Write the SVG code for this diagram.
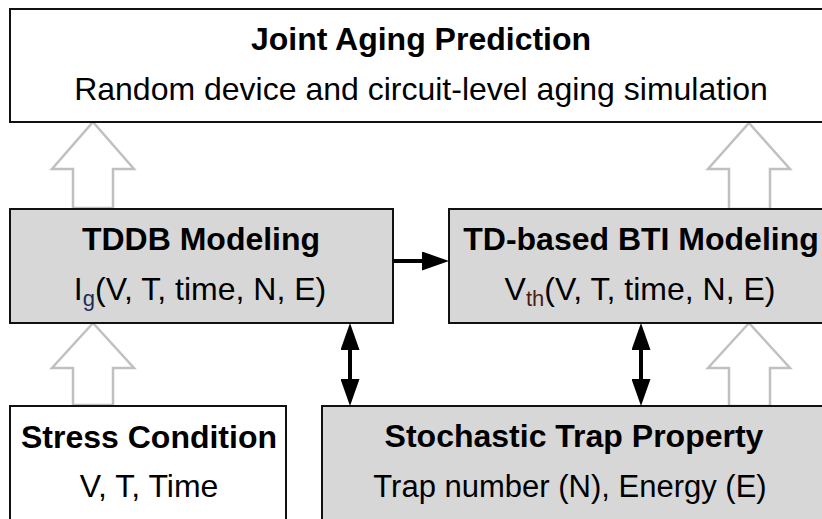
<svg xmlns="http://www.w3.org/2000/svg" width="822" height="519" viewBox="0 0 822 519">
  <style>
    .box { stroke: #111; stroke-width: 2; }
    .plain { fill: #ffffff; }
    .shade { fill: #d7d7d7; }
    .hollow { fill: #ffffff; stroke: #c0c0c0; stroke-width: 2.5; stroke-linejoin: miter; }
    .link { stroke: #000; stroke-width: 4; fill: none; }
    text { font-family: "Liberation Sans", Arial, sans-serif; fill: #000; text-anchor: middle; }
    .head { font-weight: bold; }
  </style>
  <defs>
    <marker id="tip" viewBox="0 0 27 19" refX="7" refY="9.5" markerWidth="27" markerHeight="19" markerUnits="userSpaceOnUse" orient="auto-start-reverse">
      <path d="M0,0 L27,9.5 L0,19 Z" fill="#000"/>
    </marker>
  </defs>

  <rect width="822" height="519" fill="#ffffff"/>

  <!-- hollow flow arrows -->
  <g id="flow-arrows">
    <path class="hollow" d="M93,122 L134,169 L113,169 L113,208 L73,208 L73,169 L52,169 Z"/>
    <path class="hollow" d="M749,123 L790,169 L770,169 L770,209 L729,209 L729,169 L708,169 Z"/>
    <path class="hollow" d="M93,323 L134,368 L113,368 L113,405 L73,405 L73,368 L52,368 Z"/>
    <path class="hollow" d="M749,323 L790,368 L770,368 L770,406 L729,406 L729,368 L708,368 Z"/>
  </g>

  <g id="joint-aging">
    <rect class="box plain" x="10" y="9" width="830" height="113"/>
    <text class="head" x="421" y="50" font-size="32">Joint Aging Prediction</text>
    <text x="421" y="100" font-size="32">Random device and circuit-level aging simulation</text>
  </g>

  <g id="tddb">
    <rect class="box shade" x="10" y="209" width="383" height="114"/>
    <text class="head" x="201" y="250" font-size="32">TDDB Modeling</text>
    <text x="200" y="300" font-size="32">I<tspan font-size="22" dy="6" fill="#1b2d55">g</tspan><tspan dy="-6">(V, T, time, N, E)</tspan></text>
  </g>

  <g id="bti">
    <rect class="box shade" x="449" y="209" width="383" height="114"/>
    <text class="head" x="641" y="250" font-size="32">TD-based BTI Modeling</text>
    <text x="640" y="300" font-size="32">V<tspan font-size="22" dy="6" fill="#4a1c14">th</tspan><tspan dy="-6">(V, T, time, N, E)</tspan></text>
  </g>

  <g id="stress">
    <rect class="box plain" x="10" y="406" width="276" height="130"/>
    <text class="head" x="149" y="448" font-size="32">Stress Condition</text>
    <text x="149" y="497" font-size="32">V, T, Time</text>
  </g>

  <g id="trap">
    <rect class="box shade" x="322" y="406" width="510" height="130"/>
    <text class="head" x="574" y="447" font-size="32">Stochastic Trap Property</text>
    <text x="570" y="497" font-size="31">Trap number (N), Energy (E)</text>
  </g>

  <!-- black connectors -->
  <g id="connectors">
    <line class="link" x1="393" y1="261" x2="429" y2="261" marker-end="url(#tip)"/>
    <line class="link" x1="350" y1="343" x2="350" y2="386" marker-start="url(#tip)" marker-end="url(#tip)"/>
    <line class="link" x1="641" y1="343" x2="641" y2="386" marker-start="url(#tip)" marker-end="url(#tip)"/>
  </g>
</svg>
